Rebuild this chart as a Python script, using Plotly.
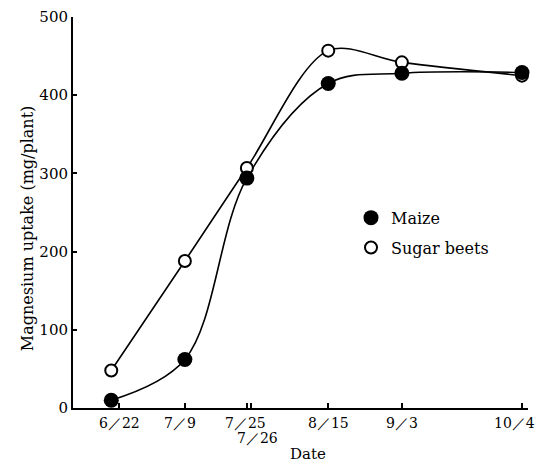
import plotly.graph_objects as go
from datetime import datetime, timedelta

# ---- data ----
sample_dates = ["2000-06-20", "2000-07-09", "2000-07-25", "2000-08-15", "2000-09-03", "2000-10-04"]
maize = [10, 62, 294, 415, 428, 429]
sugar_beets = [48, 188, 307, 457, 442, 425]

tick_dates = ["2000-06-22", "2000-07-09", "2000-07-25", "2000-07-26", "2000-08-15", "2000-09-03", "2000-10-04"]
tick_labels = ["6／22", "7／9", "7／25", "7／26", "8／15", "9／3", "10／4"]
y_ticks = [0, 100, 200, 300, 400, 500]

# label placement (styling only)
label_xshift = [0, -5, -1, 7, 0, 0, -7]
label_yshift = [-15, -15, -15, -30, -15, -15, -15]

FONT = "DejaVu Serif"

fig = go.Figure()

# smooth curves
fig.add_trace(go.Scatter(x=sample_dates, y=maize, mode="lines",
                         line=dict(color="black", width=1.6, shape="spline", smoothing=1),
                         showlegend=False, hoverinfo="skip", cliponaxis=False))
fig.add_trace(go.Scatter(x=sample_dates, y=sugar_beets, mode="lines",
                         line=dict(color="black", width=1.6, shape="spline", smoothing=0.9),
                         showlegend=False, hoverinfo="skip", cliponaxis=False))
# markers
fig.add_trace(go.Scatter(x=sample_dates, y=sugar_beets, mode="markers", name="Sugar beets",
                         legendgroup="b",
                         marker=dict(symbol="circle", size=12, color="white",
                                     line=dict(color="black", width=2)),
                         cliponaxis=False, legendrank=2))
fig.add_trace(go.Scatter(x=sample_dates, y=maize, mode="markers", name="Maize",
                         legendgroup="a",
                         marker=dict(symbol="circle", size=15, color="black",
                                     line=dict(color="black", width=0)),
                         cliponaxis=False, legendrank=1))

d0 = datetime(2000, 6, 22)
x_start = d0 - timedelta(days=11.87)
x_end = datetime(2000, 10, 4) + timedelta(days=1.55)

fig.update_layout(
    width=540, height=454,
    margin=dict(l=65, r=20, t=9, b=54, autoexpand=False),
    paper_bgcolor="white", plot_bgcolor="white",
    font=dict(family=FONT, size=15, color="black"),
    xaxis=dict(type="date", range=[x_start, x_end], automargin=False,
               tickmode="array", tickvals=tick_dates, showticklabels=False,
               ticks="inside", ticklen=5, tickwidth=1.5, tickcolor="black",
               showline=True, linecolor="black", linewidth=2,
               showgrid=False, zeroline=False),
    yaxis=dict(range=[0, 500], tickmode="array", tickvals=y_ticks, automargin=False,
               ticklabeloverflow="allow",
               ticks="inside", ticklen=4, tickwidth=2, tickcolor="black",
               showline=True, linecolor="black", linewidth=2,
               showgrid=False, zeroline=False,
               tickfont=dict(family=FONT, size=15)),
    legend=dict(x=0.611, y=0.53, xanchor="left", yanchor="top",
                bgcolor="rgba(0,0,0,0)", font=dict(family=FONT, size=16),
                traceorder="grouped", tracegroupgap=6, itemsizing="trace"),
    showlegend=True,
)

for d, txt, dx, dy in zip(tick_dates, tick_labels, label_xshift, label_yshift):
    fig.add_annotation(x=d, y=0, xref="x", yref="paper", text=txt,
                       showarrow=False, yanchor="middle", xanchor="center",
                       xshift=dx, yshift=dy, font=dict(family=FONT, size=14))

fig.add_annotation(x=0.516, y=0, xref="paper", yref="paper", text="Date",
                   showarrow=False, yanchor="middle", yshift=-46,
                   font=dict(family=FONT, size=15))
fig.add_annotation(x=-0.101, y=0.46, xref="paper", yref="paper",
                   text="Magnesium uptake (mg/plant)", textangle=-90,
                   showarrow=False, xanchor="center", yanchor="middle",
                   font=dict(family=FONT, size=16))

fig.write_html("out.html")
